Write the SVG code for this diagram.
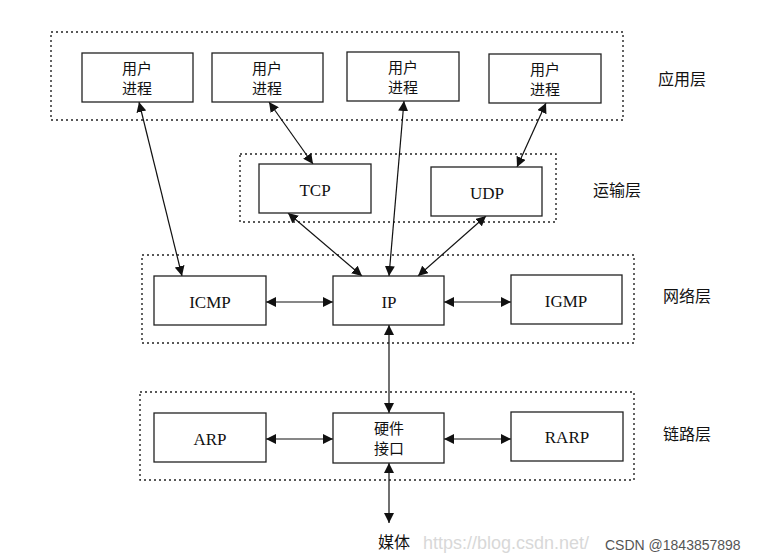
<svg xmlns="http://www.w3.org/2000/svg" width="780" height="559" viewBox="0 0 780 559">
<style>
.layer{fill:none;stroke:#222;stroke-width:1.4;stroke-dasharray:2 3}
.box{fill:#fff;stroke:#222;stroke-width:1.3}
.zh{font-family:"Noto Sans CJK SC","Noto Sans",sans-serif;font-size:15px;fill:#111;text-anchor:middle}
.zh2{font-family:"Noto Sans CJK SC","Noto Sans",sans-serif;font-size:16px;fill:#111;text-anchor:middle}
.en{font-family:"Liberation Serif",serif;font-size:17px;fill:#111;text-anchor:middle;dominant-baseline:central}
.lbl{font-family:"Noto Sans CJK SC","Noto Sans",sans-serif;font-size:16px;fill:#111;dominant-baseline:central}
.con{stroke:#111;stroke-width:1.2;fill:none;marker-start:url(#ah);marker-end:url(#ah)}
</style>
<defs>
<marker id="ah" viewBox="0 0 10 10" refX="10" refY="5" markerWidth="10" markerHeight="10" markerUnits="userSpaceOnUse" orient="auto-start-reverse">
<path d="M0,0 L10,5 L0,10 z" fill="#111"/>
</marker>
</defs>
<rect width="780" height="559" fill="#fff"/>
<g id="layers">
<rect class="layer" x="51" y="32" width="572" height="88"/>
<rect class="layer" x="240" y="154" width="316" height="68"/>
<rect class="layer" x="142" y="255" width="492" height="88"/>
<rect class="layer" x="140" y="392" width="494" height="88"/>
</g>
<g id="connectors">
<line class="con" x1="139" y1="102" x2="182" y2="276"/>
<line class="con" x1="269" y1="102" x2="313" y2="164"/>
<line class="con" x1="404" y1="101" x2="389" y2="276"/>
<line class="con" x1="546" y1="103" x2="517" y2="167"/>
<line class="con" x1="288" y1="213" x2="362" y2="276"/>
<line class="con" x1="486" y1="216" x2="418" y2="276"/>
<line class="con" x1="266" y1="302" x2="333" y2="302"/>
<line class="con" x1="444" y1="302" x2="511" y2="302"/>
<line class="con" x1="389" y1="325" x2="389" y2="413"/>
<line class="con" x1="266" y1="439" x2="333" y2="439"/>
<line class="con" x1="444" y1="439" x2="511" y2="439"/>
<line class="con" x1="389" y1="463" x2="389" y2="523"/>
</g>
<g id="proc1"><rect class="box" x="82" y="53" width="111" height="49"/><text class="zh" x="137" y="74">用户<tspan x="137" dy="19.5">进程</tspan></text></g>
<g id="proc2"><rect class="box" x="212" y="53" width="111" height="49"/><text class="zh" x="267" y="74">用户<tspan x="267" dy="19.5">进程</tspan></text></g>
<g id="proc3"><rect class="box" x="347" y="52" width="112" height="49"/><text class="zh" x="403" y="73">用户<tspan x="403" dy="19.5">进程</tspan></text></g>
<g id="proc4"><rect class="box" x="489" y="54" width="112" height="49"/><text class="zh" x="545" y="75">用户<tspan x="545" dy="19.5">进程</tspan></text></g>
<g id="tcp"><rect class="box" x="259" y="164" width="112" height="49"/><text class="en" x="315" y="190">TCP</text></g>
<g id="udp"><rect class="box" x="431" y="167" width="111" height="49"/><text class="en" x="487" y="193">UDP</text></g>
<g id="icmp"><rect class="box" x="154" y="276" width="112" height="49"/><text class="en" x="210" y="302">ICMP</text></g>
<g id="ip"><rect class="box" x="333" y="276" width="111" height="49"/><text class="en" x="389" y="302">IP</text></g>
<g id="igmp"><rect class="box" x="511" y="275" width="111" height="49"/><text class="en" x="566" y="301">IGMP</text></g>
<g id="arp"><rect class="box" x="154" y="413" width="112" height="49"/><text class="en" x="210" y="439">ARP</text></g>
<g id="hw"><rect class="box" x="333" y="413" width="111" height="50"/><text class="zh" x="389" y="434">硬件<tspan x="389" dy="19.5">接口</tspan></text></g>
<g id="rarp"><rect class="box" x="511" y="412" width="112" height="49"/><text class="en" x="567" y="437">RARP</text></g>
<g id="media"><text class="zh2" x="394" y="548">媒体</text></g>
<g id="labels">
<text class="lbl" x="658" y="78">应用层</text>
<text class="lbl" x="593" y="189">运输层</text>
<text class="lbl" x="663" y="295">网络层</text>
<text class="lbl" x="663" y="433">链路层</text>
</g>
<g id="watermark">
<text x="423" y="549" font-family="Liberation Sans,sans-serif" font-size="18" fill="#d8d8d8">https://blog.csdn.net/</text>
<text x="605" y="550" font-family="Liberation Sans,sans-serif" font-size="14" fill="#555">CSDN @1843857898</text>
</g>
</svg>
